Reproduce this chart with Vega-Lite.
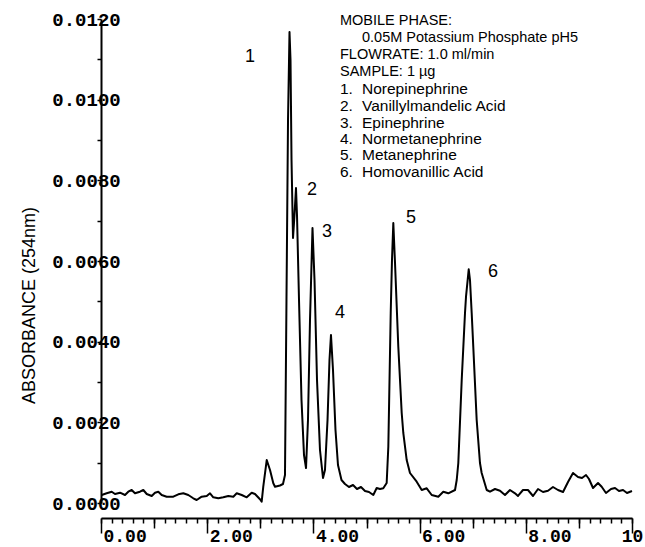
{
  "$schema": "https://vega.github.io/schema/vega-lite/v6.json",
  "width": 531,
  "height": 484,
  "autosize": {"type": "none"},
  "padding": {"left": 101, "top": 19, "right": 13, "bottom": 44},
  "background": "white",
  "config": {
    "view": {"stroke": null},
    "axis": {"grid": false, "domainColor": "black", "domainWidth": 2, "tickColor": "black", "tickWidth": 1.5,
             "labelFont": "Liberation Mono", "labelFontWeight": "bold", "labelFontSize": 19, "labelColor": "black",
             "labelOverlap": false, "labelFlush": false, "labelBound": false}
  },
  "datasets": {
    "trace": [
      {"min": 0.013, "abs": 0.000198}, {"min": 0.107, "abs": 0.00024}, {"min": 0.202, "abs": 0.00028}, {"min": 0.264, "abs": 0.000223},
      {"min": 0.358, "abs": 0.000255}, {"min": 0.452, "abs": 0.000198}, {"min": 0.514, "abs": 0.00028}, {"min": 0.578, "abs": 0.000322},
      {"min": 0.64, "abs": 0.00024}, {"min": 0.734, "abs": 0.00028}, {"min": 0.797, "abs": 0.000322}, {"min": 0.861, "abs": 0.000223},
      {"min": 0.955, "abs": 0.000174}, {"min": 1.017, "abs": 0.000255}, {"min": 1.079, "abs": 0.00028}, {"min": 1.143, "abs": 0.000198},
      {"min": 1.237, "abs": 0.000156}, {"min": 1.362, "abs": 0.000156}, {"min": 1.456, "abs": 0.000216}, {"min": 1.55, "abs": 0.00024},
      {"min": 1.644, "abs": 0.000198}, {"min": 1.738, "abs": 0.000117}, {"min": 1.802, "abs": 0.000074}, {"min": 1.896, "abs": 0.000156},
      {"min": 1.991, "abs": 0.000174}, {"min": 2.053, "abs": 0.00024}, {"min": 2.115, "abs": 0.000141}, {"min": 2.209, "abs": 0.000117},
      {"min": 2.303, "abs": 0.000141}, {"min": 2.397, "abs": 0.000174}, {"min": 2.492, "abs": 0.000156}, {"min": 2.556, "abs": 0.00024},
      {"min": 2.65, "abs": 0.000198}, {"min": 2.744, "abs": 0.000141}, {"min": 2.838, "abs": 0.000255}, {"min": 2.9, "abs": 0.000223},
      {"min": 2.994, "abs": 0.000092}, {"min": 3.026, "abs": 0.000032}, {"min": 3.056, "abs": 0.000404}, {"min": 3.121, "abs": 0.001066},
      {"min": 3.183, "abs": 0.000818}, {"min": 3.245, "abs": 0.000488}, {"min": 3.277, "abs": 0.000404}, {"min": 3.371, "abs": 0.000434},
      {"min": 3.427, "abs": 0.000471}, {"min": 3.465, "abs": 0.000694}, {"min": 3.493, "abs": 0.005033}, {"min": 3.522, "abs": 0.009496},
      {"min": 3.55, "abs": 0.011678}, {"min": 3.569, "abs": 0.010983}, {"min": 3.588, "abs": 0.008504}, {"min": 3.616, "abs": 0.00657},
      {"min": 3.644, "abs": 0.00714}, {"min": 3.672, "abs": 0.007811}, {"min": 3.691, "abs": 0.00714}, {"min": 3.729, "abs": 0.005033},
      {"min": 3.776, "abs": 0.002554}, {"min": 3.823, "abs": 0.00119}, {"min": 3.861, "abs": 0.000868}, {"min": 3.898, "abs": 0.002058},
      {"min": 3.936, "abs": 0.004537}, {"min": 3.983, "abs": 0.006818}, {"min": 4.021, "abs": 0.005529}, {"min": 4.068, "abs": 0.00305},
      {"min": 4.124, "abs": 0.001314}, {"min": 4.181, "abs": 0.00062}, {"min": 4.218, "abs": 0.000818}, {"min": 4.266, "abs": 0.002058},
      {"min": 4.303, "abs": 0.003545}, {"min": 4.331, "abs": 0.004165}, {"min": 4.369, "abs": 0.003297}, {"min": 4.416, "abs": 0.00181},
      {"min": 4.463, "abs": 0.000942}, {"min": 4.529, "abs": 0.00057}, {"min": 4.595, "abs": 0.000471}, {"min": 4.67, "abs": 0.000397},
      {"min": 4.746, "abs": 0.000446}, {"min": 4.821, "abs": 0.000347}, {"min": 4.896, "abs": 0.000397}, {"min": 4.972, "abs": 0.000298},
      {"min": 5.047, "abs": 0.000273}, {"min": 5.128, "abs": 0.000198}, {"min": 5.192, "abs": 0.000372}, {"min": 5.254, "abs": 0.000347},
      {"min": 5.316, "abs": 0.000364}, {"min": 5.38, "abs": 0.000496}, {"min": 5.411, "abs": 0.001396}, {"min": 5.456, "abs": 0.004711},
      {"min": 5.48, "abs": 0.006025}, {"min": 5.505, "abs": 0.006942}, {"min": 5.537, "abs": 0.00595}, {"min": 5.599, "abs": 0.003875},
      {"min": 5.663, "abs": 0.002231}, {"min": 5.693, "abs": 0.001736}, {"min": 5.757, "abs": 0.001066}, {"min": 5.819, "abs": 0.000744},
      {"min": 5.945, "abs": 0.000528}, {"min": 6.04, "abs": 0.000322}, {"min": 6.134, "abs": 0.000364}, {"min": 6.228, "abs": 0.000198},
      {"min": 6.352, "abs": 0.000156}, {"min": 6.446, "abs": 0.00028}, {"min": 6.54, "abs": 0.00024}, {"min": 6.667, "abs": 0.000322},
      {"min": 6.699, "abs": 0.00057}, {"min": 6.729, "abs": 0.000992}, {"min": 6.793, "abs": 0.00305}, {"min": 6.855, "abs": 0.004711},
      {"min": 6.874, "abs": 0.005115}, {"min": 6.925, "abs": 0.005794}, {"min": 6.949, "abs": 0.005529}, {"min": 6.981, "abs": 0.004711},
      {"min": 7.011, "abs": 0.003875}, {"min": 7.075, "abs": 0.002058}, {"min": 7.137, "abs": 0.000992}, {"min": 7.169, "abs": 0.000744},
      {"min": 7.264, "abs": 0.000322}, {"min": 7.326, "abs": 0.00028}, {"min": 7.42, "abs": 0.000347}, {"min": 7.514, "abs": 0.000305},
      {"min": 7.608, "abs": 0.000198}, {"min": 7.702, "abs": 0.000322}, {"min": 7.797, "abs": 0.00024}, {"min": 7.853, "abs": 0.000174},
      {"min": 7.947, "abs": 0.000322}, {"min": 8.041, "abs": 0.000322}, {"min": 8.136, "abs": 0.000174}, {"min": 8.23, "abs": 0.000347},
      {"min": 8.324, "abs": 0.000273}, {"min": 8.418, "abs": 0.000305}, {"min": 8.512, "abs": 0.000397}, {"min": 8.606, "abs": 0.000322},
      {"min": 8.701, "abs": 0.000273}, {"min": 8.795, "abs": 0.000521}, {"min": 8.889, "abs": 0.000744}, {"min": 8.983, "abs": 0.000645},
      {"min": 9.058, "abs": 0.00062}, {"min": 9.134, "abs": 0.000694}, {"min": 9.19, "abs": 0.000595}, {"min": 9.266, "abs": 0.000372},
      {"min": 9.36, "abs": 0.000496}, {"min": 9.429, "abs": 0.000404}, {"min": 9.51, "abs": 0.000248}, {"min": 9.605, "abs": 0.000347},
      {"min": 9.68, "abs": 0.000372}, {"min": 9.755, "abs": 0.000298}, {"min": 9.831, "abs": 0.000322}, {"min": 9.906, "abs": 0.000248},
      {"min": 10.0, "abs": 0.000298}
    ],
    "peaks": [
      {"min": 2.806, "abs": 0.01106, "label": "1"},
      {"min": 3.974, "abs": 0.00776, "label": "2"},
      {"min": 4.256, "abs": 0.00672, "label": "3"},
      {"min": 4.501, "abs": 0.00471, "label": "4"},
      {"min": 5.838, "abs": 0.00707, "label": "5"},
      {"min": 7.382, "abs": 0.00573, "label": "6"}
    ],
    "header": [
      {"min": 4.501, "abs": 0.01195, "label": "MOBILE PHASE:"},
      {"min": 4.915, "abs": 0.01153, "label": "0.05M Potassium Phosphate pH5"},
      {"min": 4.501, "abs": 0.01111, "label": "FLOWRATE: 1.0 ml/min"},
      {"min": 4.501, "abs": 0.01069, "label": "SAMPLE: 1 µg"}
    ],
    "compounds": [
      {"min": 4.501, "abs": 0.01026, "label": "1."},
      {"min": 4.915, "abs": 0.01026, "label": "Norepinephrine"},
      {"min": 4.501, "abs": 0.00984, "label": "2."},
      {"min": 4.915, "abs": 0.00984, "label": "Vanillylmandelic Acid"},
      {"min": 4.501, "abs": 0.00943, "label": "3."},
      {"min": 4.915, "abs": 0.00943, "label": "Epinephrine"},
      {"min": 4.501, "abs": 0.00902, "label": "4."},
      {"min": 4.915, "abs": 0.00902, "label": "Normetanephrine"},
      {"min": 4.501, "abs": 0.00862, "label": "5."},
      {"min": 4.915, "abs": 0.00862, "label": "Metanephrine"},
      {"min": 4.501, "abs": 0.00821, "label": "6."},
      {"min": 4.915, "abs": 0.00821, "label": "Homovanillic Acid"}
    ]
  },
  "resolve": {"scale": {"x": "shared", "y": "shared"}, "axis": {"x": "independent", "y": "independent"}},
  "layer": [
    {
      "data": {"name": "trace"},
      "mark": {"type": "line", "color": "black", "strokeWidth": 2, "strokeJoin": "round"},
      "encoding": {
        "x": {
          "field": "min", "type": "quantitative",
          "scale": {"domain": [0, 10], "nice": false, "zero": false},
          "axis": {
            "title": null, "orient": "bottom", "offset": 15,
            "values": [0, 0.2, 0.4, 0.6, 0.8, 1, 1.2, 1.4, 1.6, 1.8, 2, 2.2, 2.4, 2.6, 2.8, 3, 3.2, 3.4, 3.6, 3.8, 4, 4.2, 4.4, 4.6, 4.8, 5, 5.2, 5.4, 5.6, 5.8, 6, 6.2, 6.4, 6.6, 6.8, 7, 7.2, 7.4, 7.6, 7.8, 8, 8.2, 8.4, 8.6, 8.8, 9, 9.2, 9.4, 9.6, 9.8, 10],
            "tickSize": 5, "labels": false
          }
        },
        "y": {
          "field": "abs", "type": "quantitative",
          "scale": {"domain": [0, 0.012], "nice": false},
          "axis": {
            "title": "ABSORBANCE (254nm)", "orient": "left",
            "values": [0, 0.001, 0.002, 0.003, 0.004, 0.005, 0.006, 0.007, 0.008, 0.009, 0.01, 0.011, 0.012],
            "labelExpr": "round(datum.value*1000) % 2 == 0 ? format(datum.value, '.4f') : ''",
            "tickSize": 4,
            "labelAlign": "center", "labelBaseline": "middle", "labelPadding": 11,
            "titleFont": "Liberation Sans", "titleFontSize": 18, "titleFontWeight": "normal", "titleColor": "black",
            "titleAngle": 270, "titleX": -72, "titleY": 286, "titleAlign": "center", "titleBaseline": "middle"
          }
        }
      }
    },
    {
      "data": {"name": "peaks"},
      "mark": {"type": "text", "font": "Liberation Sans", "fontSize": 18, "align": "center", "baseline": "middle", "color": "black"},
      "encoding": {
        "x": {"field": "min", "type": "quantitative",
              "axis": {"title": null, "orient": "bottom", "offset": 15, "values": [1, 3, 5, 7, 9], "tickSize": 10, "labels": false, "domain": false}},
        "y": {"field": "abs", "type": "quantitative", "axis": null},
        "text": {"field": "label"}
      }
    },
    {
      "data": {"name": "header"},
      "mark": {"type": "text", "font": "Liberation Sans", "fontSize": 14.5, "align": "left", "baseline": "middle", "color": "black"},
      "encoding": {
        "x": {"field": "min", "type": "quantitative",
              "axis": {"title": null, "orient": "bottom", "offset": 15, "values": [0, 2, 4, 6, 8], "format": ".2f", "tickSize": 15, "domain": false,
                       "labelFontSize": 18, "labelAlign": "left", "labelBaseline": "middle", "labelPadding": 3, "labelOffset": 2}},
        "y": {"field": "abs", "type": "quantitative", "axis": null},
        "text": {"field": "label"}
      }
    },
    {
      "data": {"name": "compounds"},
      "mark": {"type": "text", "font": "Liberation Sans", "fontSize": 15.5, "align": "left", "baseline": "middle", "color": "black"},
      "encoding": {
        "x": {"field": "min", "type": "quantitative",
              "axis": {"title": null, "orient": "bottom", "offset": 15, "values": [10], "format": "d", "tickSize": 15, "domain": false,
                       "labelFontSize": 18, "labelAlign": "center", "labelBaseline": "middle", "labelPadding": 3}},
        "y": {"field": "abs", "type": "quantitative", "axis": null},
        "text": {"field": "label"}
      }
    }
  ]
}
